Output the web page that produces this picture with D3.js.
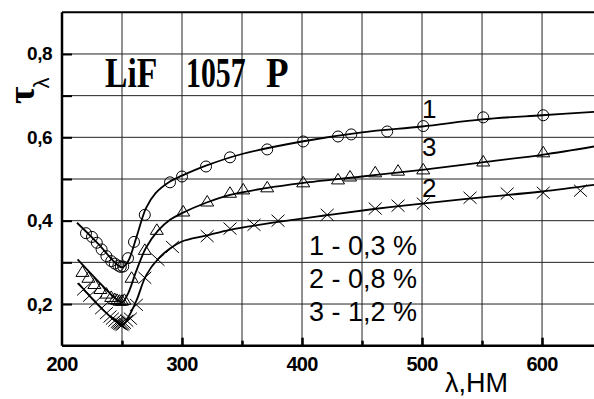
<!DOCTYPE html>
<html>
<head>
<meta charset="utf-8">
<script src="https://cdn.jsdelivr.net/npm/d3@7"></script>
<style>
  html, body { margin: 0; padding: 0; background: #fff; }
  svg { display: block; }
</style>
</head>
<body>
<div id="chart"></div>
<script>
// ---- data (wavelength nm, transmittance) ----
const xTicks = [200, 300, 400, 500, 600];
const yTicks = [0.2, 0.4, 0.6, 0.8];

// measured points
const circles1 = [
  [220, 0.370], [225, 0.361], [229, 0.347], [233, 0.331], [237, 0.315],
  [241, 0.303], [244, 0.297], [247, 0.292], [249, 0.289], [251, 0.290],
  [255, 0.310], [260, 0.349], [269, 0.414], [290, 0.492], [300, 0.506],
  [320, 0.530], [340, 0.552], [371, 0.571], [401, 0.590], [430, 0.602],
  [441, 0.607], [471, 0.614], [501, 0.627], [551, 0.648], [601, 0.653]
];
const crosses2 = [
  [218, 0.235], [223, 0.220], [228, 0.205], [233, 0.190], [237, 0.178],
  [240, 0.170], [242, 0.165], [244, 0.160], [246, 0.157], [247, 0.155],
  [248, 0.153], [249, 0.152], [250, 0.150], [251, 0.152], [252, 0.155],
  [254, 0.160], [257, 0.165], [262, 0.198], [269, 0.263], [280, 0.306],
  [292, 0.337], [321, 0.363], [340, 0.381], [360, 0.390], [380, 0.400],
  [421, 0.414], [461, 0.429], [480, 0.436], [501, 0.441], [540, 0.455],
  [571, 0.465], [601, 0.467], [632, 0.472]
];
const triangles3 = [
  [217, 0.277], [222, 0.263], [227, 0.248], [232, 0.236], [237, 0.225],
  [241, 0.217], [244, 0.212], [246, 0.210], [248, 0.208], [250, 0.208],
  [252, 0.210], [258, 0.263], [269, 0.330], [279, 0.378], [301, 0.422],
  [321, 0.446], [340, 0.467], [351, 0.475], [371, 0.480], [401, 0.492],
  [430, 0.499], [440, 0.506], [461, 0.516], [480, 0.520], [501, 0.523],
  [551, 0.542], [601, 0.564]
];

// smooth fitted curves
const fit1 = [
  [212.5, 0.395], [230, 0.345], [245, 0.297], [250, 0.288], [255, 0.302],
  [262, 0.360], [270, 0.430], [278, 0.466], [290, 0.494], [300, 0.508],
  [320, 0.532], [350, 0.560], [400, 0.590], [450, 0.612], [500, 0.626],
  [550, 0.643], [600, 0.653], [643.3, 0.661]
];
const fit2 = [
  [213.5, 0.250], [230, 0.198], [245, 0.158], [250, 0.148], [255, 0.167],
  [262, 0.208], [270, 0.268], [280, 0.308], [290, 0.333], [300, 0.350],
  [320, 0.364], [340, 0.378], [380, 0.397], [420, 0.413], [460, 0.428],
  [500, 0.441], [550, 0.456], [600, 0.470], [643.3, 0.486]
];
const fit3 = [
  [213, 0.307], [230, 0.255], [245, 0.212], [250, 0.204], [255, 0.225],
  [262, 0.280], [270, 0.335], [280, 0.376], [290, 0.402], [300, 0.418],
  [320, 0.443], [340, 0.462], [370, 0.478], [400, 0.490], [450, 0.506],
  [500, 0.522], [550, 0.540], [600, 0.558], [643.3, 0.578]
];

const legendRows = ['1 - 0,3 %', '2 - 0,8 %', '3 - 1,2 %'];
const curveLabels = [['1', 0.670], ['3', 0.579], ['2', 0.481]];

// ---- layout ----
const width = 594, height = 399;
const margin = { top: 12.3, right: 0, bottom: 53.3, left: 62 };

const svg = d3.select('#chart').append('svg')
  .attr('width', width)
  .attr('height', height)
  .style('font-family', 'Arial, "Liberation Sans", sans-serif');

const x = d3.scaleLinear().domain([200, 643.3]).range([margin.left, width - margin.right]);
const y = d3.scaleLinear().domain([0.1, 0.9]).range([height - margin.bottom, margin.top]);

// grid
svg.append('g')
  .selectAll('line')
  .data(d3.range(250, 643, 50))
  .join('line')
  .attr('x1', d => x(d)).attr('x2', d => x(d))
  .attr('y1', y(0.1)).attr('y2', y(0.9))
  .attr('stroke', '#222').attr('stroke-width', 1);

svg.append('g')
  .selectAll('line')
  .data(d3.range(0.2, 0.85, 0.1))
  .join('line')
  .attr('x1', x(200)).attr('x2', width)
  .attr('y1', d => y(d)).attr('y2', d => y(d))
  .attr('stroke', '#222').attr('stroke-width', 1);

// top frame line
svg.append('line')
  .attr('x1', x(200)).attr('x2', width)
  .attr('y1', y(0.9)).attr('y2', y(0.9))
  .attr('stroke', '#000').attr('stroke-width', 2);

// axes with inward ticks
svg.append('g')
  .attr('transform', `translate(0,${y(0.1)})`)
  .call(d3.axisTop(x).tickValues(d3.range(250, 643, 50)).tickSize(5).tickFormat(''))
  .call(g => g.select('.domain').attr('stroke-width', 2.5).attr('d', `M${x(200)},0H${width}`))
  .call(g => g.selectAll('.tick line').attr('stroke-width', 2.5)
    .attr('y2', d => (d % 100 === 0 ? -8 : -5)));

svg.append('g')
  .attr('transform', `translate(${x(200)},0)`)
  .call(d3.axisRight(y).tickValues(d3.range(0.2, 0.85, 0.1)).tickSize(10).tickFormat(''))
  .call(g => g.select('.domain').attr('stroke-width', 2.5).attr('d', `M0,${y(0.9)}V${y(0.1)}`))
  .call(g => g.selectAll('.tick line').attr('stroke-width', 2));

// tick labels
svg.append('g')
  .selectAll('text')
  .data(xTicks)
  .join('text')
  .attr('x', d => x(d))
  .attr('y', y(0.1) + 25)
  .attr('text-anchor', 'middle')
  .attr('font-size', 20)
  .attr('font-weight', 'bold')
  .attr('letter-spacing', -0.8)
  .text(d => d);

svg.append('g')
  .selectAll('text')
  .data(yTicks)
  .join('text')
  .attr('x', 52)
  .attr('y', d => y(d) + 6.5)
  .attr('text-anchor', 'end')
  .attr('font-size', 19)
  .attr('font-weight', 'bold')
  .attr('letter-spacing', -0.5)
  .text(d => d3.format('.1f')(d).replace('.', ','));

// axis titles
const yTitle = svg.append('text')
  .attr('transform', 'translate(34,104) rotate(-90)')
  .attr('font-size', 38)
  .attr('font-weight', 'bold')
  .attr('font-family', '"Liberation Serif", serif');
yTitle.append('tspan').text('τ');
yTitle.append('tspan').attr('dy', 15).attr('dx', -2).attr('font-size', 22)
  .attr('font-weight', 'normal')
  .attr('font-family', 'Arial, sans-serif').text('λ');

svg.append('text')
  .attr('x', 445)
  .attr('y', 392)
  .attr('font-size', 27)
  .text('λ,НМ');

// sample name: heavy serif squeezed horizontally
const title = [['LiF', 105, 0.8], ['1057', 186, 0.71], ['P', 266, 0.88]];
svg.append('g')
  .selectAll('text')
  .data(title)
  .join('text')
  .attr('transform', d => `translate(${d[1]},87) scale(${d[2]},1)`)
  .attr('font-family', '"Liberation Serif", "Times New Roman", serif')
  .attr('font-weight', 'bold')
  .attr('font-size', 42)
  .text(d => d[0]);

// fitted curves
const line = d3.line()
  .x(d => x(d[0]))
  .y(d => y(d[1]))
  .curve(d3.curveCatmullRom.alpha(0.5));

svg.append('g')
  .selectAll('path')
  .data([fit1, fit2, fit3])
  .join('path')
  .attr('d', line)
  .attr('fill', 'none')
  .attr('stroke', '#000')
  .attr('stroke-width', 1.8);

// markers
svg.append('g')
  .selectAll('circle')
  .data(circles1)
  .join('circle')
  .attr('cx', d => x(d[0]))
  .attr('cy', d => y(d[1]))
  .attr('r', 5.5)
  .attr('fill', 'none')
  .attr('stroke', '#000')
  .attr('stroke-width', 1);

svg.append('g')
  .selectAll('path')
  .data(triangles3)
  .join('path')
  .attr('transform', d => `translate(${x(d[0])},${y(d[1])})`)
  .attr('d', 'M0,-6L6.5,4.5L-6.5,4.5Z')
  .attr('fill', 'none')
  .attr('stroke', '#000')
  .attr('stroke-width', 1);

svg.append('g')
  .selectAll('path')
  .data(crosses2)
  .join('path')
  .attr('transform', d => `translate(${x(d[0])},${y(d[1])})`)
  .attr('d', 'M-6.5,-6L6.5,6M-6.5,6L6.5,-6')
  .attr('fill', 'none')
  .attr('stroke', '#000')
  .attr('stroke-width', 1);

// curve numbers
svg.append('g')
  .selectAll('text')
  .data(curveLabels)
  .join('text')
  .attr('x', x(500))
  .attr('y', d => y(d[1]) + 10)
  .attr('font-size', 26)
  .text(d => d[0]);

// legend
svg.append('g')
  .selectAll('text')
  .data(legendRows)
  .join('text')
  .attr('x', 309)
  .attr('y', (d, i) => 255 + 33 * i)
  .attr('font-size', 27)
  .text(d => d);
</script>
</body>
</html>
